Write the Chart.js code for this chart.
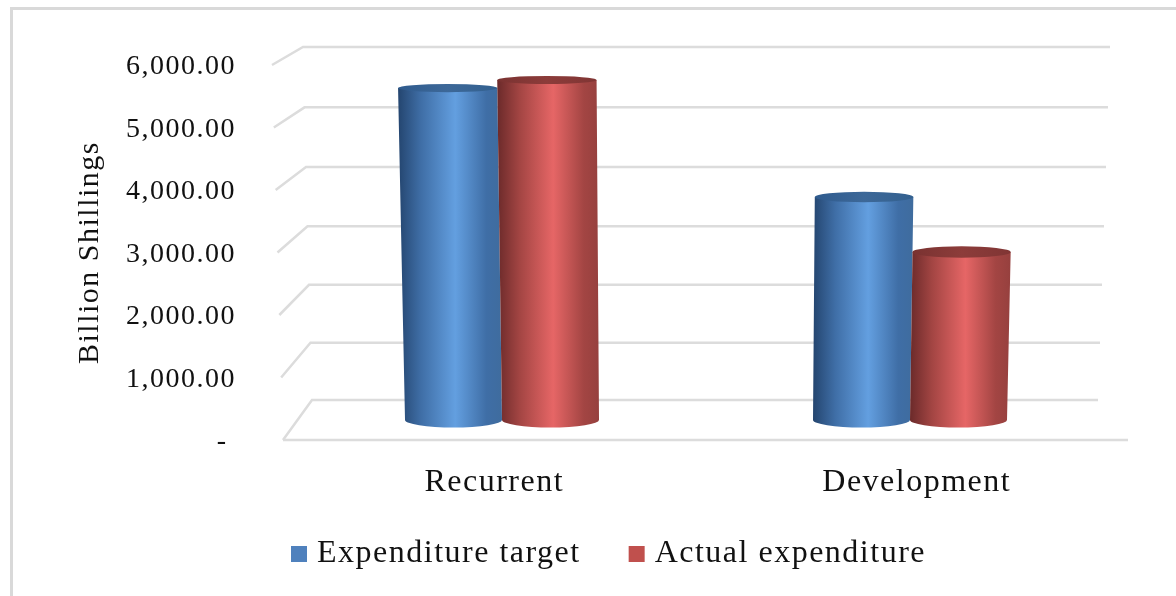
<!DOCTYPE html>
<html>
<head>
<meta charset="utf-8">
<script src="https://cdn.jsdelivr.net/npm/chart.js@4"></script>
<style>
  html, body { margin: 0; padding: 0; background: #fff; overflow: hidden; }
  #frame { position: absolute; left: 10px; top: 7px; width: 1180px; height: 600px; border: 3px solid #d9d9d9; box-sizing: border-box; }
  canvas { position: absolute; left: 0; top: 0; }
</style>
</head>
<body>
<div id="frame"></div>
<canvas id="expenditureChart" width="1176" height="596"></canvas>
<script>
// Chart data
const categories = ["Recurrent", "Development"];
const seriesNames = ["Expenditure target", "Actual expenditure"];
const expenditureTarget = [5472, 3676];
const actualExpenditure = [5604, 2769];
const yTicks = [0, 1000, 2000, 3000, 4000, 5000, 6000];

const legendColors = ["#4f81bd", "#c0504d"];
// Horizontal shading of the cylinders, dark edge -> highlight -> edge
const bodyStops = [
    ["#24456f", "#3f6ea6", "#639fe0", "#3f6c9e"],
    ["#6b2a2a", "#a34543", "#e66666", "#96403e"]
];
const capStops = [
    ["#2f5b8e", "#3d6898", "#32608f"],
    ["#7a3231", "#8c3c3a", "#803534"]
];

const textFont = "'Liberation Serif', serif";

// Cylinders lean away from this x as they get taller (the 3D view of the original)
const vanishX = 700;
const leanPerPx = 0.000071;

// Fake 3D walls: gridlines run from the axis back into the chart, then across
const wallPlugin = {
    id: "wall",
    beforeDatasetsDraw(chart) {
        const { ctx, chartArea: area, scales: { y } } = chart;
        ctx.save();
        ctx.strokeStyle = "#dcdcdc";
        ctx.lineWidth = 2.5;
        ctx.lineJoin = "miter";
        y.ticks.forEach((tick) => {
            const py = y.getPixelForValue(tick.value);
            const f = (area.bottom - py) / area.height;
            const backY = py - 40 + 22 * f + 11 * f * (1 - f);
            ctx.beginPath();
            ctx.moveTo(area.left - 11 * f, py);
            ctx.lineTo(area.left + 29 - 9 * f, backY);
            ctx.lineTo(area.right - 30 + 12 * f, backY);
            ctx.stroke();
        });
        // floor front edge
        ctx.beginPath();
        ctx.moveTo(area.left, area.bottom);
        ctx.lineTo(area.right, area.bottom);
        ctx.stroke();
        ctx.restore();
    }
};

// Paint each bar as a shaded cylinder, using the geometry Chart.js gave the bar
const cylinderPlugin = {
    id: "cylinder",
    afterDatasetsDraw(chart) {
        const { ctx } = chart;
        chart.data.datasets.forEach((dataset, di) => {
            chart.getDatasetMeta(di).data.forEach((bar) => {
                const left = bar.x - bar.width / 2;
                const right = bar.x + bar.width / 2;
                const h = bar.base - bar.y;
                const topL = left + (left - vanishX) * leanPerPx * h;
                const topR = right + (right - vanishX) * leanPerPx * h;
                const baseRy = 4 + (bar.base - 80) * 0.0103;
                const topRy = 4 + (bar.y - 80) * 0.0103;

                ctx.save();
                const g = ctx.createLinearGradient(Math.min(left, topL), 0, Math.max(right, topR), 0);
                const s = bodyStops[di];
                g.addColorStop(0, s[0]);
                g.addColorStop(0.22, s[1]);
                g.addColorStop(0.55, s[2]);
                g.addColorStop(0.85, s[1]);
                g.addColorStop(1, s[3]);
                ctx.fillStyle = g;
                ctx.beginPath();
                ctx.moveTo(topL, bar.y);
                ctx.lineTo(topR, bar.y);
                ctx.lineTo(right, bar.base);
                ctx.ellipse(bar.x, bar.base, bar.width / 2, baseRy, 0, 0, Math.PI);
                ctx.closePath();
                ctx.fill();

                // top cap
                const c = ctx.createLinearGradient(topL, 0, topR, 0);
                const cs = capStops[di];
                c.addColorStop(0, cs[0]);
                c.addColorStop(0.5, cs[1]);
                c.addColorStop(1, cs[2]);
                ctx.fillStyle = c;
                ctx.beginPath();
                ctx.ellipse((topL + topR) / 2, bar.y, (topR - topL) / 2, topRy, 0, 0, Math.PI * 2);
                ctx.fill();
                ctx.restore();
            });
        });
    }
};

// Original font (Palatino) runs wider than Liberation Serif
const spacingPlugin = {
    id: "spacing",
    beforeLayout(chart) { chart.ctx.letterSpacing = "1.5px"; },
    beforeDraw(chart) {
        chart.ctx.letterSpacing = "1.5px";
        // x labels hang below the short axis box, don't let the scale clip them
        chart.scales.x.bottom = chart.legend.bottom;
    }
};

const toPoints = (values) => values.map((v, i) => ({ x: i, y: v }));

new Chart(document.getElementById("expenditureChart"), {
    type: "bar",
    data: {
        labels: categories,
        datasets: [
            {
                label: seriesNames[0],
                data: toPoints(expenditureTarget),
                backgroundColor: "transparent",
                xAxisID: "xBars",
                yAxisID: "yBars",
                barThickness: 97
            },
            {
                label: seriesNames[1],
                data: toPoints(actualExpenditure),
                backgroundColor: "transparent",
                xAxisID: "xBars",
                yAxisID: "yBars",
                barThickness: 97
            }
        ]
    },
    options: {
        responsive: false,
        animation: false,
        layout: { padding: { left: 72, right: 25, top: 65, bottom: 16 } },
        plugins: {
            tooltip: { enabled: false },
            legend: {
                position: "bottom",
                labels: {
                    // thin box + thick stroke: same 16px square, closer to its text
                    boxWidth: 4,
                    boxHeight: 4,
                    padding: 54,
                    color: "#111",
                    font: { family: textFont, size: 32 },
                    generateLabels(chart) {
                        return Chart.defaults.plugins.legend.labels.generateLabels(chart).map((item, i) => ({
                            ...item,
                            lineWidth: 12,
                            fillStyle: legendColors[i],
                            strokeStyle: legendColors[i]
                        }));
                    }
                }
            }
        },
        scales: {
            x: {
                type: "category",
                grid: { display: false },
                border: { display: false },
                ticks: { color: "#111", padding: 15, maxRotation: 0, font: { family: textFont, size: 32 } },
                afterFit(scale) { scale.height = 44; }
            },
            y: {
                min: 0,
                max: 6000,
                afterBuildTicks(scale) { scale.ticks = yTicks.map((value) => ({ value })); },
                grid: { display: false },
                border: { display: false },
                title: {
                    display: true,
                    text: "Billion Shillings",
                    color: "#111",
                    padding: 0,
                    font: { family: textFont, size: 30 }
                },
                ticks: {
                    color: "#111",
                    padding: 39,
                    labelOffset: 2,
                    font: { family: textFont, size: 28 },
                    callback(value) {
                        return value === 0 ? "- " : value.toLocaleString("en-US", { minimumFractionDigits: 2 });
                    }
                },
                afterFit(scale) { scale.width = 211; }
            },
            // The bars stand in the middle of the floor, so they sit on their own hidden scales
            xBars: { type: "linear", display: false, offset: false, min: -0.5368, max: 1.5343 },
            yBars: {
                position: "right",
                min: -330,
                max: 5852,
                grid: { display: false },
                border: { display: false },
                ticks: { display: false },
                afterFit(scale) { scale.width = 23; }
            }
        }
    },
    plugins: [spacingPlugin, wallPlugin, cylinderPlugin]
});
</script>
</body>
</html>
